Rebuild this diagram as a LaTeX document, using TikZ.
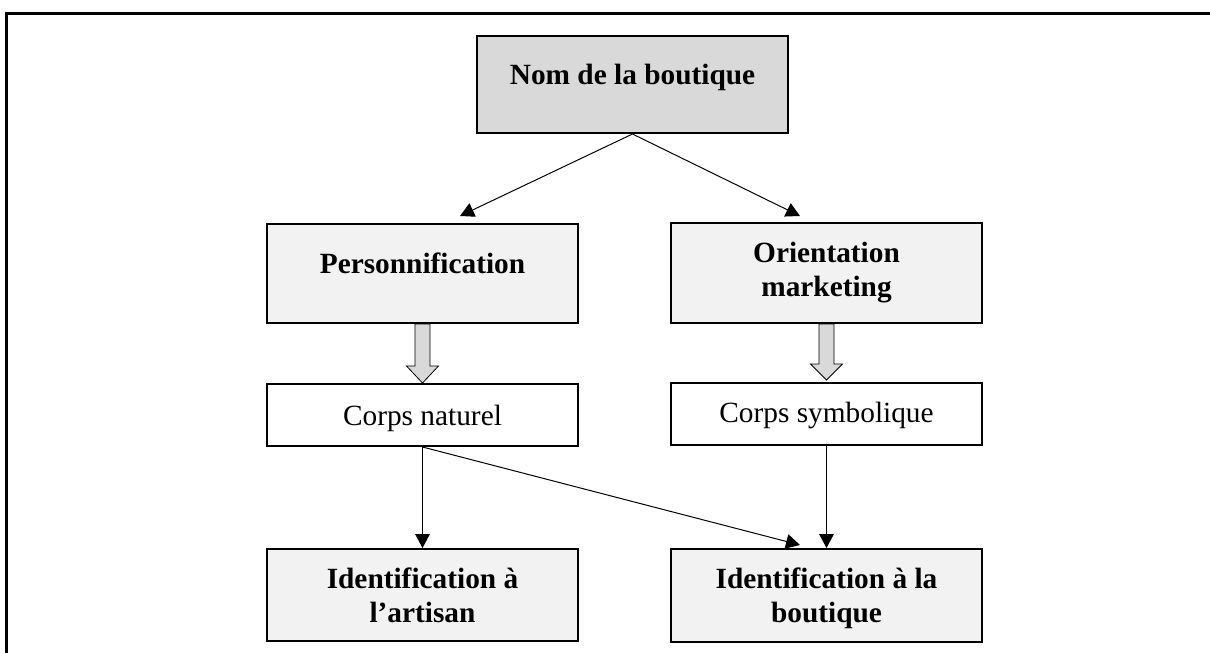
\documentclass[tikz,border=0pt]{standalone}
\usepackage{fontspec}
\setmainfont{Liberation Serif}
\usepackage{tikz}
\usetikzlibrary{arrows.meta,positioning,calc}
\definecolor{boxgray}{HTML}{D9D9D9}
\definecolor{boxlight}{HTML}{F2F2F2}
\definecolor{fatgray}{HTML}{D9D9D9}
\tikzset{
  >={Triangle[length=10.5pt,width=11pt]},
  % boites
  gbox/.style={rectangle,draw=black,line width=1.5pt,inner sep=0pt,
               minimum width=233.25pt,align=center,text height=15pt,
               font=\fontsize{22pt}{25.5pt}\selectfont},
  titre/.style={gbox,fill=boxgray,font=\fontsize{22pt}{25.5pt}\selectfont\bfseries},
  theme/.style={gbox,fill=boxlight,font=\fontsize{22pt}{25.5pt}\selectfont\bfseries},
  corps/.style={gbox,fill=white,minimum height=46.5pt},
  deux/.style={text height=40.5pt},
  % fleches
  fl/.style={->,draw=black,line width=0.75pt},
  fat/.style={draw=black,fill=fatgray,line width=0.6pt,line join=miter},
  cadre/.style={draw=black,line width=2.25pt,line join=miter},
}
\begin{document}
\begin{tikzpicture}[x=0.75pt,y=-0.75pt]
  \useasboundingbox (0,0) rectangle (1210,653);
  \draw[cadre] (6.5,653) -- (6.5,13.5) -- (1210,13.5);

  \node[titre,minimum height=72.75pt,text depth=14.3pt] (nom) at (632.5,84.5) {Nom de la boutique};
  \node[theme,minimum height=74.25pt,text depth=15.7pt] (perso) at (422.5,273.5) {Personnification};
  \node[theme,deux,minimum height=75pt,text depth=6pt] (orient) at (826.5,273) {Orientation\\marketing};
  \node[corps,text depth=0pt] (naturel) at (422.5,415) {Corps naturel};
  \node[corps,text depth=3pt] (symb) at (826.5,414) {Corps symbolique};
  \node[theme,deux,minimum height=69pt,text depth=0pt] (artisan) at (422.5,595) {Identification à\\l’artisan};
  \node[theme,deux,minimum height=69.75pt,text depth=0pt] (idbout) at (826.5,595.5) {Identification à la\\boutique};

  \coordinate (pL) at ($(perso.north)+(37.5,-7)$);
  \coordinate (pR) at ($(orient.north)+(-26.5,-6)$);
  \coordinate (pB) at ($(idbout.north)+(-26.5,-3)$);

  \draw[fl] (nom.south) -- (pL);
  \draw[fl] (nom.south) -- (pR);
  \draw[fat] ($(perso.south)+(-7.5,0)$) -- ++(0,42) -- ++(-8.5,0) -- ++(16,17)
    -- ++(16,-17) -- ++(-8.5,0) -- ++(0,-42) -- cycle;
  \draw[fat] ($(orient.south)+(-7.5,0)$) -- ++(0,40) -- ++(-8.5,0) -- ++(16,16)
    -- ++(16,-16) -- ++(-8.5,0) -- ++(0,-40) -- cycle;
  \draw[fl] (naturel.south) -- (artisan.north);
  \draw[fl] (naturel.south) -- (pB);
  \draw[fl] (symb.south) -- (idbout.north);
\end{tikzpicture}
\end{document}
